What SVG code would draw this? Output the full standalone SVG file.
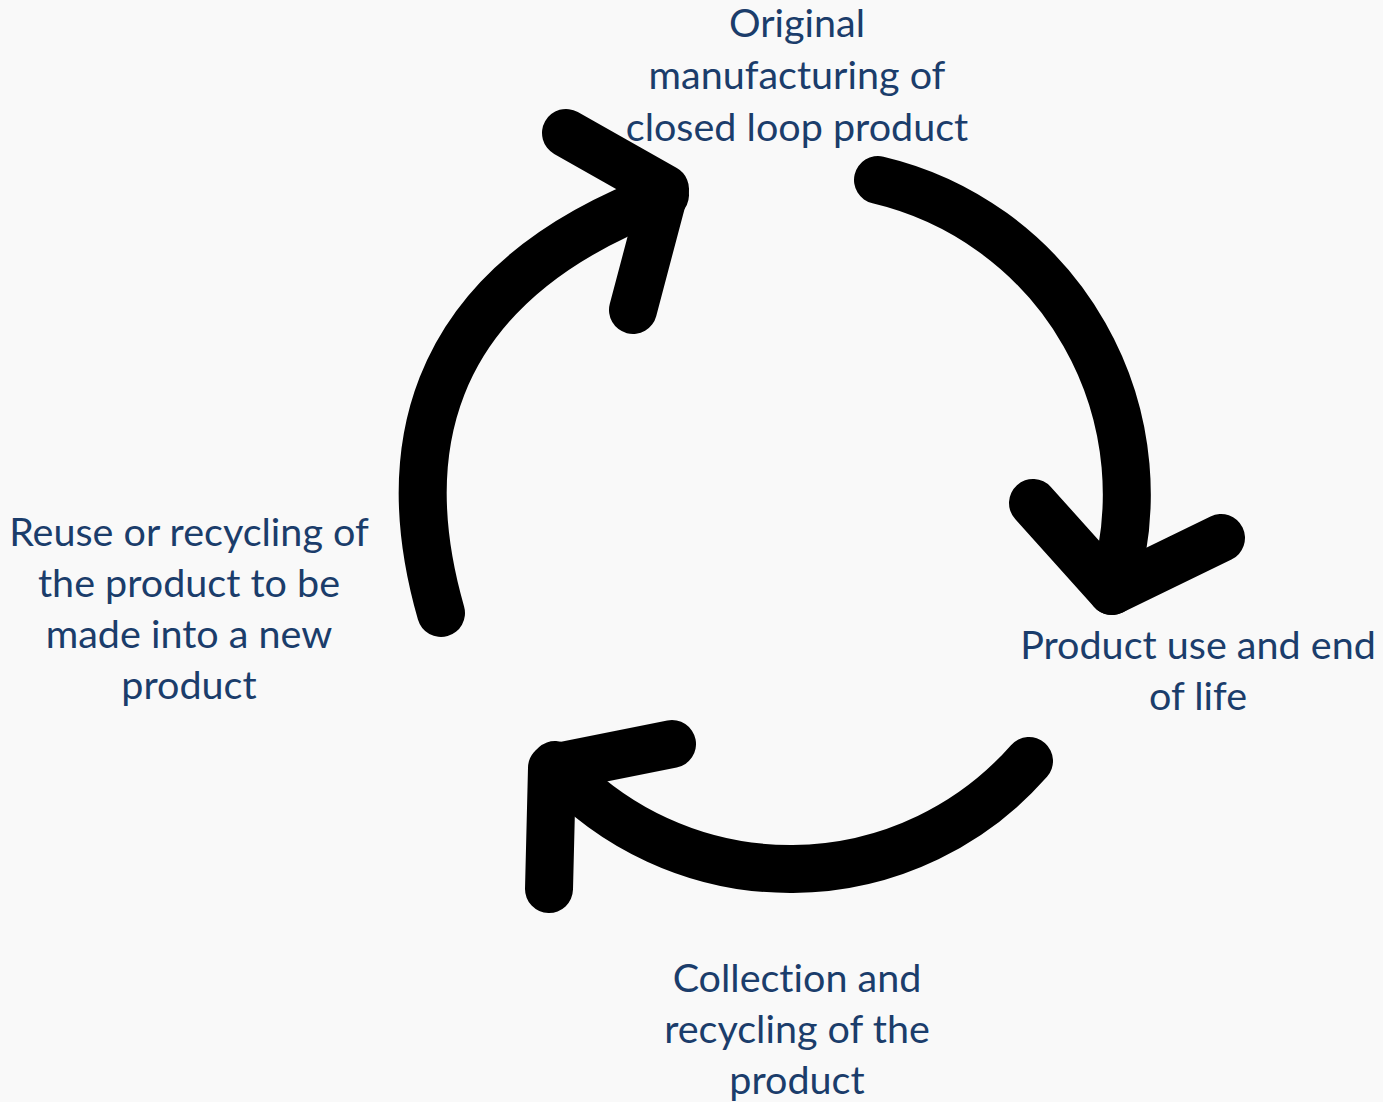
<svg xmlns="http://www.w3.org/2000/svg" width="1383" height="1102" viewBox="0 0 1383 1102">
<style>
.lbl{font-family:Lato,"Liberation Sans",sans-serif;font-size:39.5px;fill:#1b3d6b;text-anchor:middle;font-variant-ligatures:none}
.arr{fill:none;stroke:#000;stroke-width:48;stroke-linecap:round;stroke-linejoin:round}
</style>
<rect width="1383" height="1102" fill="#f9f9f9"/>
<g id="connectors">
<path class="arr" d="M878,180 A323,323 0 0 1 1112,591"/>
<path class="arr" d="M1033,503 L1112,591 L1221,538"/>
<path class="arr" d="M1029,761 A318,318 0 0 1 555,765"/>
<path class="arr" d="M672,744 L552,768 L549,889"/>
<path class="arr" d="M441,613 C400,470 410,290 665,195"/>
<path class="arr" d="M566,133 L665,189 L633,310"/>
</g>
<g id="node-manufacturing">
<text class="lbl" x="797" y="37">Original</text>
<text class="lbl" x="797" y="89">manufacturing of</text>
<text class="lbl" x="797" y="141">closed loop product</text>
</g>
<g id="node-use">
<text class="lbl" x="1198" y="659">Product use and end</text>
<text class="lbl" x="1198" y="710">of life</text>
</g>
<g id="node-collection">
<text class="lbl" x="797" y="992">Collection and</text>
<text class="lbl" x="797" y="1043">recycling of the</text>
<text class="lbl" x="797" y="1094">product</text>
</g>
<g id="node-reuse">
<text class="lbl" x="189" y="546">Reuse or recycling of</text>
<text class="lbl" x="189" y="597">the product to be</text>
<text class="lbl" x="189" y="648">made into a new</text>
<text class="lbl" x="189" y="699">product</text>
</g>
</svg>
